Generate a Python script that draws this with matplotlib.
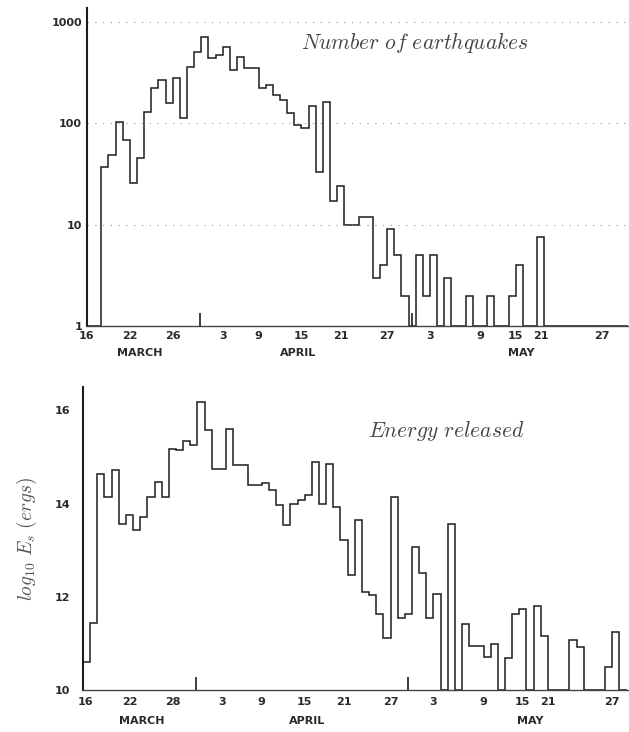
import numpy as np
import matplotlib.pyplot as plt
from matplotlib.transforms import ScaledTranslation

plt.rcParams['mathtext.fontset'] = 'cm'

# one value per day, day 0 = 16 March 1980
quake_counts = [1, 1, 37, 49, 104, 69, 26, 46, 129, 224,
                269, 159, 282, 113, 362, 509, 713, 439, 475, 574,
                337, 455, 354, 354, 224, 240, 190, 170, 126, 97,
                90, 147, 33, 164, 17, 24, 10, 10, 12, 12,
                3, 4, 9, 5, 2, 1, 5, 2, 5, 1,
                3, 1, 1, 2, 1, 1, 2, 1, 1, 2,
                4, 1, 1, 7.5, 1, 1, 1, 1, 1, 1,
                1, 1, 1, 1, 1, 1]

log_energy = [10.6, 11.43, 14.64, 14.14, 14.71, 13.57, 13.75, 13.43, 13.71, 14.14,
              14.46, 14.14, 15.17, 15.14, 15.35, 15.25, 16.17, 15.57, 14.75, 14.75,
              15.6, 14.82, 14.82, 14.39, 14.39, 14.43, 14.28, 13.96, 13.53, 14.0,
              14.07, 14.18, 14.89, 14.0, 14.85, 13.93, 13.21, 12.46, 13.64, 12.1,
              12.03, 11.64, 11.11, 14.14, 11.54, 11.64, 13.07, 12.5, 11.54, 12.07,
              10, 13.57, 10, 11.41, 10.94, 10.94, 10.71, 10.99, 10, 10.69,
              11.64, 11.73, 10, 11.8, 11.16, 10, 10, 10, 11.07, 10.93,
              10, 10, 10, 10.49, 11.25, 10]

top_tick_days = [0, 6, 12, 19, 24, 30, 35.5, 42, 48, 55, 60, 63.5, 72]
top_tick_labels = ['16', '22', '26', '3', '9', '15', '21', '27', '3', '9', '15', '21', '27']
bot_tick_days = [0.3, 6.5, 12.5, 19.5, 25, 31, 36.5, 43, 49, 56, 61.5, 65, 74]
bot_tick_labels = ['16', '22', '28', '3', '9', '15', '21', '27', '3', '9', '15', '21', '27']

month_names = ['MARCH', 'APRIL', 'MAY']
top_month_days = [7.4, 29.5, 60.8]
bot_month_days = [8.2, 31.3, 62.5]
month_marks = [15.8, 45.5]   # small ticks at the month changes

count_ticks = [1, 10, 100, 1000]
energy_ticks = [10, 12, 14, 16]

edges = np.arange(len(quake_counts) + 1)
ink = '#1c1c1c'
tick_font = dict(fontsize=8, fontweight='bold', color='#2a2a2a', family='DejaVu Sans')

fig = plt.figure(figsize=(6.29, 7.32), dpi=100)
ax1 = fig.add_axes([87 / 629, 1 - 326 / 732, 541 / 629, 318 / 732])
ax2 = fig.add_axes([83 / 629, 1 - 690 / 732, 545 / 629, 303 / 732])

# ---- number of earthquakes
ax1.stairs(quake_counts, edges, baseline=1, color=ink, lw=1.1)
ax1.set_yscale('log')
ax1.set_ylim(1, 1380)
ax1.set_xlim(0, 75.7)
ax1.set_yticks(count_ticks, [str(t) for t in count_ticks], **tick_font)
ax1.minorticks_off()
ax1.grid(axis='y', color='#999999', lw=0.8, linestyle=(0, (1, 6)))
ax1.text(0.606, 0.89, r'$Number\ of\ earthquakes$', transform=ax1.transAxes,
         ha='center', va='center', fontsize=15.5, color='#444444')
# y labels sit a little above their gridlines in the original
for lab in ax1.get_yticklabels():
    lab.set_transform(lab.get_transform() + ScaledTranslation(0, 0.06, fig.dpi_scale_trans))

# ---- energy released
ax2.stairs(log_energy, edges, baseline=10, color=ink, lw=1.1)
ax2.set_ylim(10, 16.5)
ax2.set_xlim(0, 76.2)
ax2.set_yticks(energy_ticks, [str(t) for t in energy_ticks], **tick_font)
ax2.text(0.666, 0.855, r'$Energy\ released$', transform=ax2.transAxes,
         ha='center', va='center', fontsize=15.5, color='#444444')
ax2.set_ylabel(r'$log_{10}\ E_s\ (ergs)$', fontsize=14, color='#555555')
ax2.yaxis.set_label_coords(-0.08, 0.5)

for ax, tdays, tlabels, mdays, ypad, mpad in [
        (ax1, top_tick_days, top_tick_labels, top_month_days, 3.5, 27),
        (ax2, bot_tick_days, bot_tick_labels, bot_month_days, 5.0, 31)]:
    ax.set_xticks(tdays, tlabels, **tick_font)
    ax.set_xticks(month_marks, minor=True)
    ax.tick_params(axis='x', which='major', length=0, pad=ypad)
    ax.tick_params(axis='x', which='minor', direction='in', length=9.5, width=1.2, color=ink)
    ax.tick_params(axis='y', length=0)
    for sp in ['top', 'right']:
        ax.spines[sp].set_visible(False)
    ax.spines['left'].set_linewidth(1.5)
    ax.spines['left'].set_color(ink)
    ax.spines['bottom'].set_linewidth(1.0)
    ax.spines['bottom'].set_color('#444444')
    for name, d in zip(month_names, mdays):
        ax.annotate(name, xy=(d, 0), xycoords=('data', 'axes fraction'),
                    xytext=(0, -mpad * 0.72), textcoords='offset points',
                    ha='center', va='center', **tick_font)

ax1.tick_params(axis='y', pad=3.6)
ax2.tick_params(axis='y', pad=9)

fig.savefig('out.png', dpi=100)
